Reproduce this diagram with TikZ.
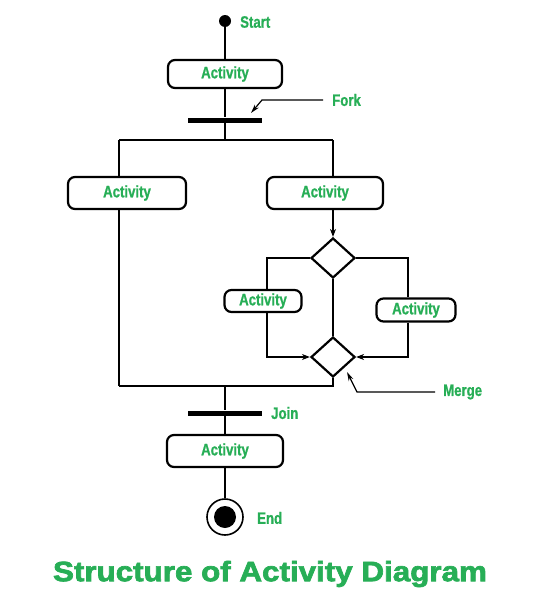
\documentclass[tikz,border=0pt]{standalone}
\usepackage{fontspec}
\setmainfont{Liberation Sans}
\newfontfamily\labfont[FakeStretch=0.8,FakeBold=1]{Liberation Sans}
\newfontfamily\titlefont[FakeStretch=1.12,FakeBold=2.5]{Liberation Sans}
\usetikzlibrary{shapes.geometric,arrows.meta,calc}
\definecolor{gfg}{RGB}{39,174,86}
\tikzset{
  act/.style={draw, line width=2.2pt, rounded corners=7pt, inner sep=0pt, font=\labfont\bfseries\fontsize{16.5}{16.5}\selectfont, text=gfg},
  bar/.style={fill=black, draw=none, minimum height=5pt, minimum width=74pt, inner sep=0pt},
  dia/.style={draw, diamond, line width=2.2pt, inner sep=0pt, minimum width=44pt, minimum height=40pt},
  conn/.style={line width=1.4pt},
  arr/.style={line width=1.4pt, -{Stealth[length=8pt,width=6pt]}},
  lbl/.style={font=\labfont\bfseries\fontsize{16.5}{16.5}\selectfont, text=gfg, anchor=west, inner sep=0pt},
}
\begin{document}
\begin{tikzpicture}[x=1pt,y=-1pt]
\useasboundingbox (0,0) rectangle (543,589);
% nodes
\node[circle, fill=black, minimum size=12pt, inner sep=0pt] (start) at (225,21) {};
\node[lbl] (startl) at (240,22) {Start};
\node[act, minimum width=114pt, minimum height=28pt] (a1) at (225,74) {Activity};
\node[bar] (fork) at (225,120) {};
\node[lbl] (forkl) at (332,100) {Fork};
\coordinate (fc) at (225,140);
\coordinate (fl) at (119,140);
\coordinate (fr) at (333,140);
\node[act, minimum width=118pt, minimum height=32pt] (a2) at (127,193) {Activity};
\node[act, minimum width=116pt, minimum height=32pt] (a3) at (325,193) {Activity};
\node[dia] (d1) at (333,258) {};
\node[act, minimum width=77pt, minimum height=22pt] (a4) at (263,301) {Activity};
\node[act, minimum width=79pt, minimum height=23pt] (a5) at (416,310) {Activity};
\node[dia] (d2) at (333,357) {};
\coordinate (cl) at (267,357);
\coordinate (cr) at (408,357);
\node[lbl] (mergel) at (443,392) {Merge};
\coordinate (jl) at (119,386);
\coordinate (jc) at (225,386);
\node[bar] (join) at (225,413) {};
\node[lbl] (joinl) at (271,413) {Join};
\node[act, minimum width=116pt, minimum height=32pt] (a6) at (225,451) {Activity};
\node[circle, draw, line width=1.6pt, minimum size=36pt, inner sep=0pt] (end) at (225,517) {};
\node[circle, fill=black, minimum size=22pt, inner sep=0pt] at (end.center) {};
\node[lbl] (endl) at (257,518) {End};
\node[font=\titlefont\bfseries\fontsize{28}{28}\selectfont, text=gfg, inner sep=0pt] (title) at (270,574) {Structure of Activity Diagram};
% connectors
\draw[conn] (start) -- (a1);
\draw[conn] (a1) -- (fork);
\draw[conn] (fork) -- (fc);
\draw[conn] (fl) -- (fr);
\draw[conn] (fl) -- (fl |- a2.north);
\draw[conn] (fr) -- (fr |- a3.north);
\draw[arr] (fr |- a3.south) -- (d1.north);
\draw[conn] (d1.west) -- (d1.west -| cl) -- (cl |- a4.north);
\draw[arr] (cl |- a4.south) -- (cl) -- (d2.west);
\draw[conn] (d1.east) -- (d1.east -| cr) -- (cr |- a5.north);
\draw[arr] (cr |- a5.south) -- (cr) -- (d2.east);
\draw[conn] (d1.south) -- (d2.north);
\draw[conn] (d2.south) |- (jl);
\draw[conn] (fl |- a2.south) -- (jl);
\draw[conn] (jc) -- (join);
\draw[conn] (join) -- (a6);
\draw[conn] (a6) -- (end);
% label pointers
\coordinate (fk1) at (323,100);
\coordinate (fk2) at (262,100);
\coordinate (fk3) at (251,113);
\draw[line width=1.2pt, -{Stealth[length=9pt,width=5pt]}] (fk1) -- (fk2) -- (fk3);
\coordinate (mg1) at (435,392);
\coordinate (mg2) at (357,392);
\coordinate (mg3) at (347,372);
\draw[line width=1.2pt, -{Stealth[length=9pt,width=5pt]}] (mg1) -- (mg2) -- (mg3);
\end{tikzpicture}
\end{document}
